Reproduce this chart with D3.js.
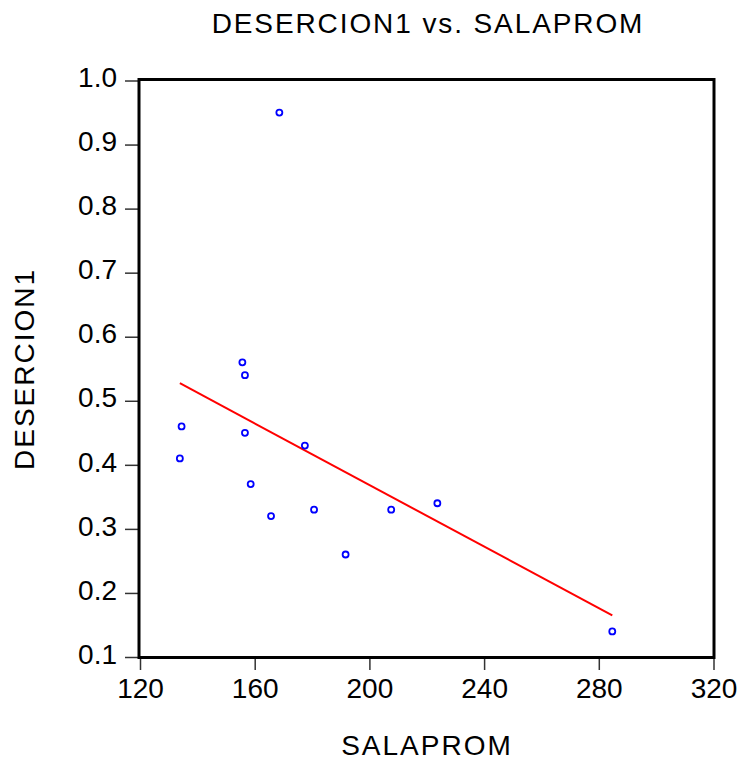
<!DOCTYPE html>
<html>
<head>
<meta charset="utf-8">
<script src="https://cdn.jsdelivr.net/npm/d3@7"></script>
<style>
  body { margin: 0; background: #fff; }
  text { font-family: "Liberation Sans", Arial, sans-serif; fill: #000; }
</style>
</head>
<body>
<svg id="chart" width="741" height="762"></svg>
<script>
// Data
const salaprom   = [168.6, 155.7, 156.6, 134.5, 156.6, 133.9, 158.6, 165.7, 180.7, 177.5, 207.6, 223.7, 191.7, 284.7];
const desercion1 = [0.95, 0.56, 0.54, 0.46, 0.45, 0.41, 0.37, 0.32, 0.33, 0.43, 0.33, 0.34, 0.26, 0.14];
const xTicks = [120, 160, 200, 240, 280, 320];
const yTicks = [0.1, 0.2, 0.3, 0.4, 0.5, 0.6, 0.7, 0.8, 0.9, 1.0];
const titleText = "DESERCION1 vs. SALAPROM";
const xLabel = "SALAPROM";
const yLabel = "DESERCION1";

const svg = d3.select("#chart");
const x = d3.scaleLinear().domain([120, 320]).range([140, 713.5]);
const y = d3.scaleLinear().domain([0.1, 1.0]).range([657, 80.5]);

// Least squares fit
const n = salaprom.length;
const mx = d3.mean(salaprom), my = d3.mean(desercion1);
let sxy = 0, sxx = 0;
for (let i = 0; i < n; i++) { sxy += (salaprom[i]-mx)*(desercion1[i]-my); sxx += (salaprom[i]-mx)**2; }
const b = sxy / sxx, a = my - b * mx;
const [xmin, xmax] = d3.extent(salaprom);

// Axes (ticks outside)
const xAxis = d3.axisBottom(x).tickValues(xTicks).tickSize(12).tickPadding(8).tickFormat(d3.format("d"));
const yAxis = d3.axisLeft(y).tickValues(yTicks).tickSize(13).tickPadding(8).tickFormat(d3.format(".1f"));

const gx = svg.append("g").attr("transform", "translate(0,658)").call(xAxis);
const gy = svg.append("g").attr("transform", "translate(138,0)").call(yAxis);
[gx, gy].forEach(g => {
  g.select(".domain").remove();
  g.selectAll(".tick line").attr("stroke", "#333").attr("stroke-width", 1.5);
  g.selectAll(".tick text").style("font-size", "28px").attr("fill", "#000");
});
gy.selectAll(".tick text").attr("dy", "0.22em");
gx.selectAll(".tick text").attr("dy", "0.71em");

// Frame
svg.append("rect")
  .attr("x", 139).attr("y", 79.5)
  .attr("width", 575).attr("height", 578)
  .attr("fill", "none").attr("stroke", "#000").attr("stroke-width", 3);

// Regression line
svg.append("line")
  .attr("x1", x(xmin)).attr("y1", y(a + b*xmin))
  .attr("x2", x(xmax)).attr("y2", y(a + b*xmax))
  .attr("stroke", "#ff0000").attr("stroke-width", 2);

// Points
svg.append("g").selectAll("circle")
  .data(salaprom.map((v, i) => [v, desercion1[i]]))
  .join("circle")
  .attr("cx", d => x(d[0])).attr("cy", d => y(d[1]))
  .attr("r", 3)
  .attr("fill", "none").attr("stroke", "#0000ff").attr("stroke-width", 1.8);

// Title and labels
svg.append("text").attr("x", 428).attr("y", 33).attr("text-anchor", "middle")
  .style("font-size", "28px").style("letter-spacing", "1.9px").text(titleText);
svg.append("text").attr("x", 427).attr("y", 755).attr("text-anchor", "middle")
  .style("font-size", "28px").style("letter-spacing", "2px").text(xLabel);
svg.append("text").attr("transform", "translate(34,369) rotate(-90)").attr("text-anchor", "middle")
  .style("font-size", "28px").style("letter-spacing", "2px").text(yLabel);
</script>
</body>
</html>
